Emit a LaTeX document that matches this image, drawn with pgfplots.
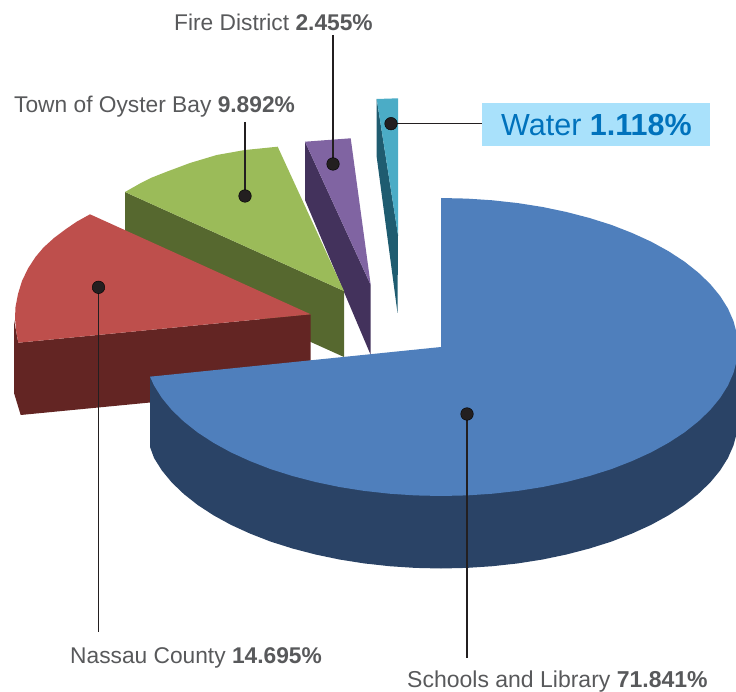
\documentclass[border=0pt]{standalone}
\usepackage{fontspec}
\setmainfont{Liberation Sans}
\usepackage{pgfplots}
\pgfplotsset{compat=1.18}
\definecolor{bluetop}{HTML}{4F7FBC}
\definecolor{blueside}{HTML}{2A4366}
\definecolor{redtop}{HTML}{BE4F4C}
\definecolor{redside}{HTML}{632523}
\definecolor{greentop}{HTML}{9BBB59}
\definecolor{greenside}{HTML}{56682F}
\definecolor{purpletop}{HTML}{8064A2}
\definecolor{purpleside}{HTML}{43325C}
\definecolor{tealtop}{HTML}{4BACC6}
\definecolor{tealside}{HTML}{1F5C70}
\definecolor{labelgrey}{HTML}{58595B}
\definecolor{waterbox}{HTML}{A9E1FB}
\definecolor{watertext}{HTML}{0072BC}
\definecolor{dotcol}{HTML}{231F20}
\tikzset{lab/.style={font=\fontsize{22.75}{27}\selectfont,text=labelgrey,inner sep=0pt}}
\begin{document}
\begin{tikzpicture}
\useasboundingbox (0,0) rectangle (736pt,692pt);
\begin{axis}[
  at={(0,0)},anchor=south west,
  width=736pt,height=692pt,scale only axis,
  xmin=0,xmax=736,ymin=0,ymax=692,y dir=reverse,
  hide axis,
  clip=true,
]
% Water box
\addplot[fill=waterbox,draw=none] coordinates {(482,103.3)(710,103.3)(710,145.7)(482,145.7)} --cycle;
% Teal slice (Water)
\addplot[fill=tealside,draw=none] coordinates {(376.7,99)(376.7,157)(397.5,313)(398,235)} --cycle;
\addplot[fill=tealtop,draw=none] coordinates {(376.7,99)(398,98.3)(398,235)} --cycle;
% Purple slice (Fire District)
\addplot[fill=purpleside,draw=none] coordinates {(305,141.7)(305,200)(370.7,355)(370.7,285)} --cycle;
\addplot[fill=purpletop,draw=none] coordinates {(305,141.7)(350.7,138.3)(370.7,285)} --cycle;
% Green slice (Town of Oyster Bay)
\addplot[fill=greenside,draw=none] coordinates {(125,192)(125,258)(344,357)(344,291)} --cycle;
\addplot[fill=greentop,draw=none] coordinates {(125,192)(140,183.5)(152,177.5)(166.7,171.7)(190,163)(216.7,155)(245,150)(277.7,146.7)(344,291)} --cycle;
% Red slice (Nassau County)
\addplot[fill=redside,draw=none] coordinates {(14,320)(14,393)(20.7,415)(310.7,387)(310.7,314.3)(18.3,342.7)} --cycle;
\addplot[fill=redtop,draw=none] coordinates {(90,214.3)(77,221.5)(66,229)(54,238)(43.5,247.5)(35.5,257)(28,268.5)(22,281)(18,294)(15.5,307)(15,318)(16,330)(18.3,342.7)(310.7,314.3)} --cycle;
% Blue slice (Schools and Library)
\addplot[fill=blueside,draw=none] coordinates {(738,347)(738,419.5)(736.9,432.5)(733.5,445.4)(727.9,458.1)(720.1,470.5)(710.2,482.5)(698.2,494)(684.3,505)(668.5,515.3)(651,524.9)(631.9,533.6)(611.4,541.6)(589.5,548.5)(566.5,554.5)(542.6,559.5)(517.9,563.4)(492.6,566.2)(466.9,567.9)(441,568.5)(415.1,567.9)(389.4,566.2)(364.1,563.4)(339.4,559.5)(315.5,554.5)(292.5,548.5)(270.6,541.6)(250.1,533.6)(231,524.9)(213.5,515.3)(197.7,505)(183.8,494)(171.8,482.5)(161.9,470.5)(154.1,458.1)(150,447)(150,376.7)} --cycle;
\addplot[fill=bluetop,draw=none] coordinates {(441,347)(441,198)(466.9,198.6)(492.6,200.3)(517.9,203.1)(542.6,207)(566.5,212)(589.5,218)(611.4,224.9)(631.9,232.9)(651,241.6)(668.5,251.2)(684.3,261.5)(698.2,272.5)(710.2,284)(720.1,296)(727.9,308.4)(733.5,321.1)(736.9,334)(738,347)(736.9,360)(733.5,372.9)(727.9,385.6)(720.1,398)(710.2,410)(698.2,421.5)(684.3,432.5)(668.5,442.8)(651,452.4)(631.9,461.1)(611.4,469.1)(589.5,476)(566.5,482)(542.6,487)(517.9,490.9)(492.6,493.7)(466.9,495.4)(441,496)(415.1,495.4)(389.4,493.7)(364.1,490.9)(339.4,487)(315.5,482)(292.5,476)(270.6,469.1)(250.1,461.1)(231,452.4)(213.5,442.8)(197.7,432.5)(183.8,421.5)(171.8,410)(161.9,398)(154.1,385.6)(150,376.7)} --cycle;
% Leader lines
\addplot[dotcol,line width=1.3pt] coordinates {(333,35)(333,164)};
\addplot[dotcol,line width=1.3pt] coordinates {(245,122)(245,196)};
\addplot[dotcol,line width=1.3pt] coordinates {(98.5,287)(98.5,632)};
\addplot[dotcol,line width=1.3pt] coordinates {(467,414)(467,658)};
\addplot[dotcol,line width=1.3pt] coordinates {(391,123.7)(482,123.7)};
% Dots
\addplot[only marks,mark=*,mark size=6.3pt,mark options={fill=dotcol,draw=none}] coordinates {(333,164)(245,196)(98.5,287.3)(467,414)(391,123.7)};
% Labels
\node[lab,anchor=west] at (axis cs:174,22) {Fire District \textbf{2.455\%}};
\node[lab,anchor=west] at (axis cs:14,107) {Town of Oyster Bay \textbf{9.892\%}};
\node[lab,anchor=west] at (axis cs:70,658) {Nassau County \textbf{14.695\%}};
\node[lab,anchor=west,font=\fontsize{23}{27}\selectfont] at (axis cs:407,681.5) {Schools and Library \textbf{71.841\%}};
\node[anchor=west,inner sep=0pt,text=watertext,font=\fontsize{30.5}{36}\selectfont] at (axis cs:501,125) {Water \textbf{1.118\%}};
\end{axis}
\end{tikzpicture}
\end{document}
